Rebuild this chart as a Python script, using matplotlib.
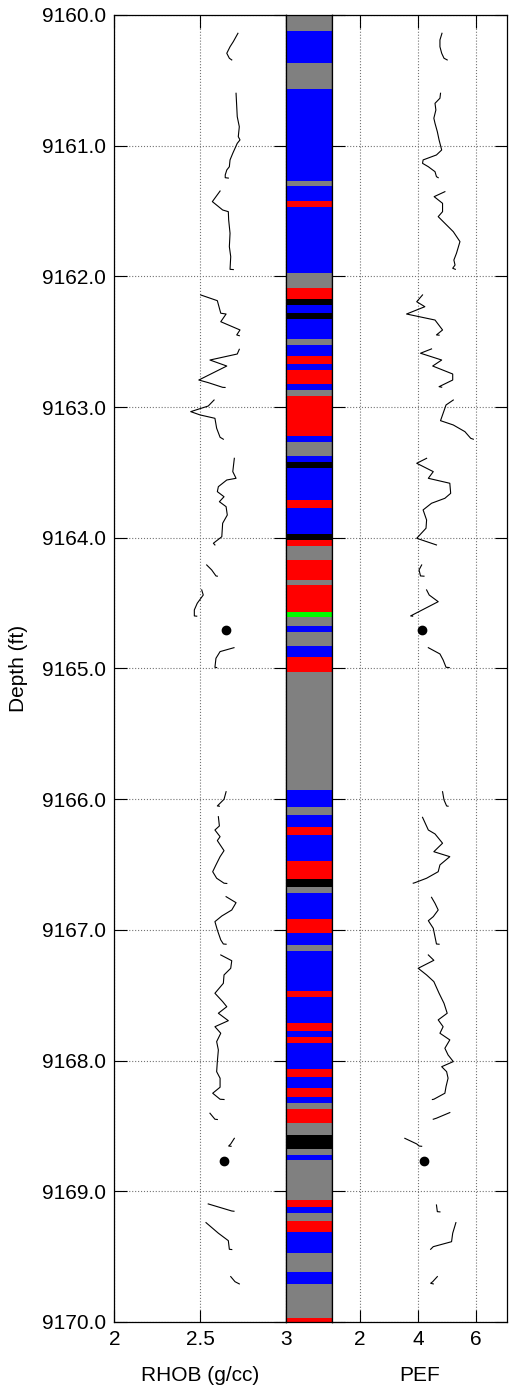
import matplotlib.pyplot as plt
import numpy as np

nan = np.nan

# depth range and ticks
depth_top = 9160.0
depth_base = 9170.0
depth_ticks = [9160, 9161, 9162, 9163, 9164, 9165, 9166, 9167, 9168, 9169, 9170]

# RHOB log (g/cc), gaps as nan
rhob_depth = [
    9160.140, 9160.204, 9160.243, 9160.293, 9160.331, 9160.344, nan,
    9160.599, 9160.702, 9160.778, 9160.855, 9160.931, 9160.956, 9160.982, 9161.020, 9161.058,
    9161.109, 9161.161, 9161.186, 9161.224, 9161.245, 9161.248, nan,
    9161.347, 9161.428, 9161.492, 9161.505, 9161.568, 9161.670, 9161.773, 9161.849, 9161.946, 9161.948, nan,
    9162.142, 9162.186, 9162.282, 9162.288, 9162.347, 9162.410, 9162.448, 9162.454, nan,
    9162.558, 9162.594, 9162.640, 9162.686, 9162.793, 9162.813, 9162.849, 9162.850, nan,
    9162.946, 9162.992, 9163.035, 9163.060, 9163.086, 9163.162, 9163.231, 9163.246, nan,
    9163.392, 9163.494, 9163.545, 9163.558, 9163.609, 9163.647, 9163.686, 9163.724, 9163.762,
    9163.826, 9163.889, 9163.992, 9164.042, 9164.055, nan,
    9164.208, 9164.246, 9164.292, 9164.294, nan,
    9164.399, 9164.438, 9164.501, 9164.552, 9164.598, 9164.600, nan,
    9164.841, 9164.871, 9164.922, 9164.991, 9164.993, nan,
    9165.943, 9166.001, 9166.052, 9166.054, nan,
    9166.134, 9166.205, 9166.236, 9166.287, 9166.317, 9166.394, 9166.440, 9166.503, 9166.555,
    9166.605, 9166.643, 9166.645, nan,
    9166.746, 9166.792, 9166.848, 9166.894, 9166.937, 9167.001, 9167.077, 9167.108, 9167.110, nan,
    9167.192, 9167.236, 9167.294, 9167.345, 9167.409, 9167.485, 9167.549, 9167.588, 9167.638,
    9167.695, 9167.741, 9167.791, 9167.855, 9167.919, 9168.008, 9168.085, 9168.135, 9168.204,
    9168.250, 9168.296, 9168.298, nan,
    9168.403, 9168.449, 9168.451, nan,
    9168.595, 9168.638, 9168.654, 9168.656, nan,
    9169.097, 9169.151, 9169.153, nan,
    9169.240, 9169.321, 9169.378, 9169.444, 9169.446, nan,
    9169.653, 9169.692, 9169.709,
]
rhob = [
    2.720, 2.693, 2.674, 2.655, 2.670, 2.684, nan,
    2.709, 2.713, 2.716, 2.728, 2.722, 2.732, 2.716, 2.703, 2.690,
    2.674, 2.670, 2.655, 2.646, 2.646, 2.664, nan,
    2.616, 2.571, 2.631, 2.664, 2.666, 2.674, 2.670, 2.678, 2.674, 2.693, nan,
    2.503, 2.600, 2.620, 2.651, 2.620, 2.732, 2.713, 2.728, nan,
    2.728, 2.716, 2.557, 2.655, 2.492, 2.547, 2.631, 2.645, nan,
    2.581, 2.547, 2.445, 2.499, 2.586, 2.596, 2.616, 2.635, nan,
    2.699, 2.690, 2.709, 2.655, 2.606, 2.600, 2.639, 2.612, 2.651,
    2.658, 2.631, 2.626, 2.577, 2.586, nan,
    2.538, 2.567, 2.592, 2.600, nan,
    2.509, 2.518, 2.483, 2.466, 2.466, 2.480, nan,
    2.697, 2.616, 2.592, 2.586, 2.596, nan,
    2.651, 2.639, 2.600, 2.612, nan,
    2.606, 2.612, 2.586, 2.616, 2.600, 2.639, 2.616, 2.592, 2.573,
    2.596, 2.639, 2.655, nan,
    2.651, 2.709, 2.684, 2.626, 2.586, 2.600, 2.620, 2.635, 2.651, nan,
    2.620, 2.684, 2.678, 2.639, 2.635, 2.586, 2.631, 2.655, 2.606,
    2.664, 2.586, 2.620, 2.596, 2.606, 2.600, 2.596, 2.616, 2.616,
    2.573, 2.616, 2.639, nan,
    2.557, 2.586, 2.600, nan,
    2.699, 2.678, 2.666, 2.680, nan,
    2.547, 2.684, 2.697, nan,
    2.534, 2.606, 2.664, 2.670, 2.684, nan,
    2.678, 2.703, 2.728,
]

# PEF log, gaps as nan
pef_depth = [
    9160.140, 9160.191, 9160.243, 9160.293, 9160.331, 9160.344, nan,
    9160.599, 9160.637, 9160.676, 9160.727, 9160.790, 9160.829, 9160.893, 9160.956, 9161.033,
    9161.071, 9161.109, 9161.135, 9161.161, 9161.199, 9161.237, 9161.245, nan,
    9161.352, 9161.390, 9161.441, 9161.505, 9161.543, 9161.607, 9161.658, 9161.734, 9161.823,
    9161.875, 9161.913, 9161.938, 9161.946, nan,
    9162.142, 9162.194, 9162.232, 9162.288, 9162.334, 9162.410, 9162.448, 9162.450, nan,
    9162.555, 9162.588, 9162.640, 9162.686, 9162.747, 9162.793, 9162.844, 9162.848, nan,
    9162.946, 9162.984, 9163.104, 9163.137, 9163.188, 9163.239, 9163.246, nan,
    9163.392, 9163.430, 9163.494, 9163.545, 9163.583, 9163.660, 9163.698, 9163.736, 9163.787,
    9163.864, 9163.927, 9164.004, 9164.055, nan,
    9164.208, 9164.246, 9164.292, 9164.294, nan,
    9164.399, 9164.438, 9164.489, 9164.598, 9164.600, nan,
    9164.841, 9164.889, 9164.935, 9164.991, 9164.993, nan,
    9165.943, 9166.006, 9166.052, 9166.054, nan,
    9166.139, 9166.236, 9166.266, 9166.337, 9166.402, 9166.440, 9166.503, 9166.555, 9166.605,
    9166.639, 9166.643, nan,
    9166.751, 9166.797, 9166.848, 9166.899, 9166.930, 9166.988, 9167.052, 9167.108, 9167.110, nan,
    9167.192, 9167.233, 9167.294, 9167.345, 9167.396, 9167.485, 9167.562, 9167.638, 9167.689,
    9167.741, 9167.791, 9167.842, 9167.906, 9167.957, 9168.008, 9168.047, 9168.085, 9168.135,
    9168.199, 9168.250, 9168.296, 9168.298, nan,
    9168.398, 9168.441, 9168.449, nan,
    9168.595, 9168.638, 9168.654, 9168.656, nan,
    9169.105, 9169.156, 9169.158, nan,
    9169.240, 9169.321, 9169.386, 9169.424, 9169.444, nan,
    9169.653, 9169.692, 9169.704, 9169.709,
]
pef = [
    4.83, 4.76, 4.76, 4.82, 4.90, 5.01, nan,
    4.78, 4.76, 4.59, 4.62, 4.55, 4.59, 4.67, 4.73, 4.82,
    4.64, 4.18, 4.16, 4.36, 4.59, 4.64, 4.70, nan,
    4.93, 4.56, 4.85, 4.85, 4.70, 4.99, 5.22, 5.45, 5.33,
    5.24, 5.28, 5.20, 5.29, nan,
    4.16, 3.96, 4.24, 3.61, 4.59, 4.85, 4.64, 4.73, nan,
    4.47, 4.09, 4.82, 4.51, 5.20, 5.20, 4.73, 4.82, nan,
    5.22, 4.97, 4.78, 5.22, 5.62, 5.82, 5.91, nan,
    4.30, 3.96, 4.53, 4.36, 5.10, 5.13, 4.93, 4.47, 4.18,
    4.30, 4.28, 3.96, 4.64, nan,
    4.13, 4.04, 4.09, 4.21, nan,
    4.30, 4.39, 4.70, 3.75, 3.82, nan,
    4.36, 4.76, 4.87, 4.97, 5.08, nan,
    4.85, 4.90, 4.99, 5.04, nan,
    4.16, 4.36, 4.59, 4.85, 4.55, 5.10, 4.76, 4.70, 4.30,
    3.90, 3.84, nan,
    4.47, 4.59, 4.70, 4.53, 4.36, 4.53, 4.59, 4.64, 4.73, nan,
    4.36, 4.55, 4.01, 4.30, 4.55, 4.73, 4.90, 5.01, 4.70,
    4.87, 4.76, 5.10, 4.93, 5.04, 5.22, 4.82, 4.99, 5.04,
    4.97, 4.93, 4.55, 4.50, nan,
    5.10, 4.64, 4.53, nan,
    3.55, 3.96, 4.04, 4.13, nan,
    4.64, 4.67, 4.76, nan,
    5.31, 5.20, 5.16, 4.53, 4.44, nan,
    4.67, 4.51, 4.44, 4.53,
]

# isolated single samples drawn as dots
dot_depth = [9164.705, 9168.766]
rhob_dot = [2.651, 2.639]
pef_dot = [4.15, 4.21]

# facies column: top of each interval and its code
facies_top = [
    9160.000, 9160.122, 9160.367, 9160.566, 9161.270, 9161.308, 9161.423, 9161.469, 9161.974, 9162.089,
    9162.175, 9162.219, 9162.280, 9162.326, 9162.479, 9162.525, 9162.609, 9162.670, 9162.716, 9162.823,
    9162.869, 9162.915, 9163.221, 9163.267, 9163.374, 9163.420, 9163.466, 9163.711, 9163.772, 9163.971,
    9164.017, 9164.063, 9164.170, 9164.323, 9164.361, 9164.568, 9164.606, 9164.675, 9164.721, 9164.828,
    9164.912, 9165.027, 9165.930, 9166.060, 9166.121, 9166.213, 9166.274, 9166.473, 9166.610, 9166.672,
    9166.718, 9166.917, 9167.024, 9167.116, 9167.161, 9167.467, 9167.513, 9167.712, 9167.774, 9167.819,
    9167.865, 9168.064, 9168.125, 9168.210, 9168.278, 9168.324, 9168.370, 9168.477, 9168.569, 9168.676,
    9168.722, 9168.761, 9169.066, 9169.120, 9169.166, 9169.227, 9169.311, 9169.472, 9169.617, 9169.709,
    9169.969,
]
facies = [
    'G', 'B', 'G', 'B', 'G', 'B', 'R', 'B', 'G', 'R',
    'K', 'B', 'K', 'B', 'G', 'B', 'R', 'B', 'R', 'B',
    'G', 'R', 'B', 'G', 'B', 'K', 'B', 'R', 'B', 'K',
    'R', 'G', 'R', 'G', 'R', 'L', 'G', 'B', 'G', 'B',
    'R', 'G', 'B', 'G', 'B', 'R', 'B', 'R', 'K', 'G',
    'B', 'R', 'B', 'G', 'B', 'R', 'B', 'R', 'B', 'R',
    'B', 'R', 'B', 'R', 'B', 'G', 'R', 'G', 'K', 'G',
    'B', 'G', 'R', 'B', 'G', 'R', 'B', 'G', 'B', 'G',
    'R',
]
facies_colors = {'G': '#808080', 'B': '#0000ff', 'R': '#ff0000', 'K': '#000000', 'L': '#00ff00'}

rhob_ticks = [2, 2.5, 3]
rhob_ticklabels = ['2', '2.5', '3']
pef_ticks = [2, 4, 6]
pef_ticklabels = ['2', '4', '6']

plt.rcParams['font.family'] = ['Liberation Sans', 'DejaVu Sans']
plt.rcParams['font.size'] = 15


def style_track(ax, xlim, ticks, ticklabels):
    ax.set_xlim(*xlim)
    ax.set_ylim(depth_base, depth_top)
    ax.set_xticks(ticks)
    ax.set_xticklabels(ticklabels)
    ax.set_yticks(depth_ticks)
    ax.grid(True, color='0.45', linestyle=':', linewidth=0.8)
    ax.set_axisbelow(True)
    ax.tick_params(direction='in', length=9, width=0.8, top=True, right=True,
                   labelsize=15, pad=6)
    for s in ax.spines.values():
        s.set_linewidth(0.9)


if __name__ == "__main__":
    fig = plt.figure(figsize=(5.09, 13.87), dpi=100)
    bottom, height = 0.0469, 0.9423
    ax1 = fig.add_axes([0.2246, bottom, 0.3373, height])
    axf = fig.add_axes([0.5619, bottom, 0.0910, height])
    ax2 = fig.add_axes([0.6528, bottom, 0.3438, height])

    # RHOB track
    ax1.plot(rhob, rhob_depth, color='k', lw=0.8)
    ax1.plot(rhob_dot, dot_depth, 'ko', ms=6)
    style_track(ax1, (2, 3), rhob_ticks, rhob_ticklabels)
    ax1.set_yticklabels([f"{d:.1f}" for d in depth_ticks])
    ax1.set_xlabel("RHOB (g/cc)", labelpad=12)
    ax1.set_ylabel("Depth (ft)", labelpad=10)

    # facies column
    bounds = np.append(facies_top, depth_base)
    axf.barh(facies_top, 1, height=np.diff(bounds), left=0, align='edge',
             color=[facies_colors[f] for f in facies], linewidth=0)
    axf.set_xlim(0, 1)
    axf.set_ylim(depth_base, depth_top)
    axf.set_xticks([])
    axf.set_yticks([])
    for s in axf.spines.values():
        s.set_linewidth(0.9)

    # PEF track
    ax2.plot(pef, pef_depth, color='k', lw=0.8)
    ax2.plot(pef_dot, dot_depth, 'ko', ms=6)
    style_track(ax2, (1.05, 7.08), pef_ticks, pef_ticklabels)
    ax2.tick_params(labelleft=False)
    ax2.set_xlabel("PEF", labelpad=12)

    fig.savefig("out.png", dpi=100)
